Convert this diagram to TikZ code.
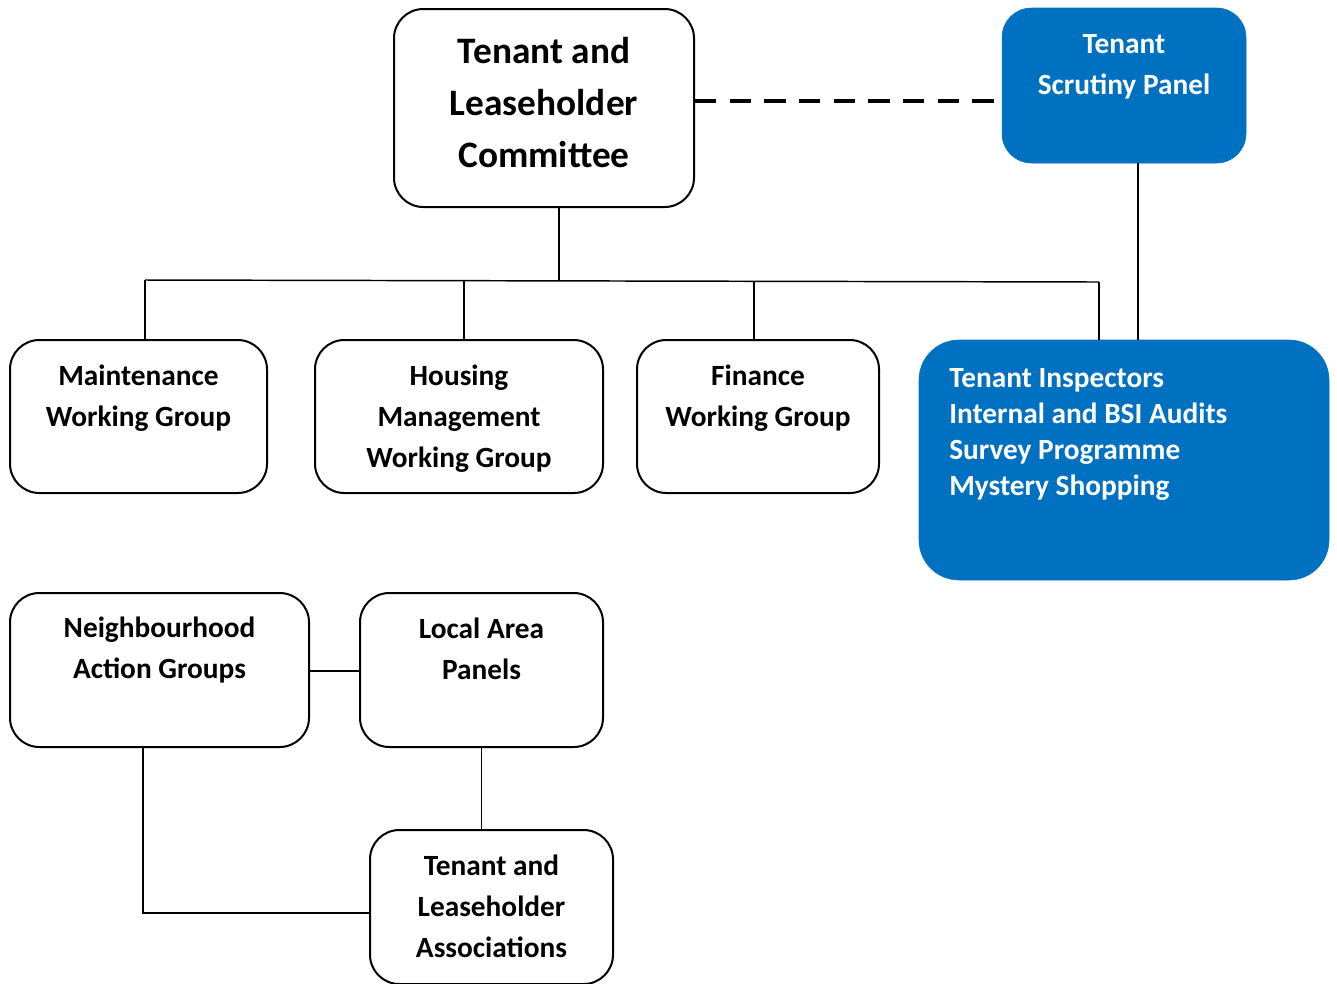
\documentclass[tikz,border=0pt]{standalone}
\usepackage{fontspec}
\setmainfont{Carlito}
\definecolor{panelblue}{HTML}{0070C0}
\begin{document}
\begin{tikzpicture}[x=0.75pt,y=-0.75pt,
  box/.style={draw=black,line width=1.5pt,rounded corners=22pt,fill=white},
  bluebox/.style={draw=panelblue,fill=panelblue,rounded corners=22pt},
  txt/.style={align=center,font=\bfseries\fontsize{22}{30.75}\selectfont,inner sep=0pt},
  wtxt/.style={align=center,text=white,font=\bfseries\fontsize{22}{30.75}\selectfont,inner sep=0pt},
  link/.style={line width=1.1pt}]
\useasboundingbox (0,0) rectangle (1337,983);
% top committee and scrutiny panel
\node[box,minimum width=300*0.75pt,minimum height=198*0.75pt] (tlc) at (544,108) {};
\node[txt,font=\bfseries\fontsize{28}{39}\selectfont] (tlcT) at (544,103) {Tenant and\\Leaseholder\\Committee};
\node[bluebox,minimum width=244*0.75pt,minimum height=155*0.75pt] (tsp) at (1124,85.5) {};
\node[wtxt] (tspT) at (1124,67) {Tenant\\Scrutiny Panel};
% working groups
\node[box,minimum width=257*0.75pt,minimum height=153*0.75pt] (mwg) at (138.5,416.5) {};
\node[txt] (mwgT) at (138.5,398) {Maintenance\\Working Group};
\node[box,minimum width=288*0.75pt,minimum height=153*0.75pt] (hmwg) at (459,416.5) {};
\node[txt] (hmwgT) at (459,419) {Housing\\Management\\Working Group};
\node[box,minimum width=242*0.75pt,minimum height=153*0.75pt] (fwg) at (758,416.5) {};
\node[txt] (fwgT) at (758,398) {Finance\\Working Group};
\node[bluebox,rounded corners=30pt,minimum width=410*0.75pt,minimum height=240*0.75pt] (ti) at (1124,460) {};
\node[wtxt,align=left,anchor=north west,font=\bfseries\fontsize{22}{27}\selectfont] (tiT) at (949,368) {Tenant Inspectors\\Internal and BSI Audits\\Survey Programme\\Mystery Shopping};
% local groups
\node[box,minimum width=299*0.75pt,minimum height=154*0.75pt] (nag) at (159.5,670) {};
\node[txt] (nagT) at (159.5,650) {Neighbourhood\\Action Groups};
\node[box,minimum width=243*0.75pt,minimum height=154*0.75pt] (lap) at (481.5,670) {};
\node[txt] (lapT) at (481.5,649) {Local Area\\Panels};
\node[box,minimum width=243*0.75pt,minimum height=154*0.75pt] (tla) at (491.5,907) {};
\node[txt] (tlaT) at (491.5,906) {Tenant and\\Leaseholder\\Associations};
% connectors
\draw[line width=3pt,dash pattern=on 16pt off 10pt] (tlc.east |- 0,101) -- (tsp.west |- 0,101);
\coordinate (bus) at (559,280);
\draw[link] (tlc.south -| bus) -- (bus);
\draw[link] (145,280) -- (1099,282);
\draw[link] (mwg.north -| 145,0) -- (145,280);
\draw[link] (hmwg.north -| 464,0) -- (464,280.7);
\draw[link] (fwg.north -| 754,0) -- (754,281.3);
\draw[link] (ti.north -| 1099,0) -- (1099,282);
\draw[link] (tsp.south -| 1138,0) -- (ti.north -| 1138,0);
\draw[link] (nag.east |- 0,671) -- (lap.west |- 0,671);
\draw[link] (lap.south) -- (tla.north -| lap.south);
\draw[link] (nag.south -| 143,0) -- (143,913) -- (tla.west |- 0,913);
\end{tikzpicture}
\end{document}
